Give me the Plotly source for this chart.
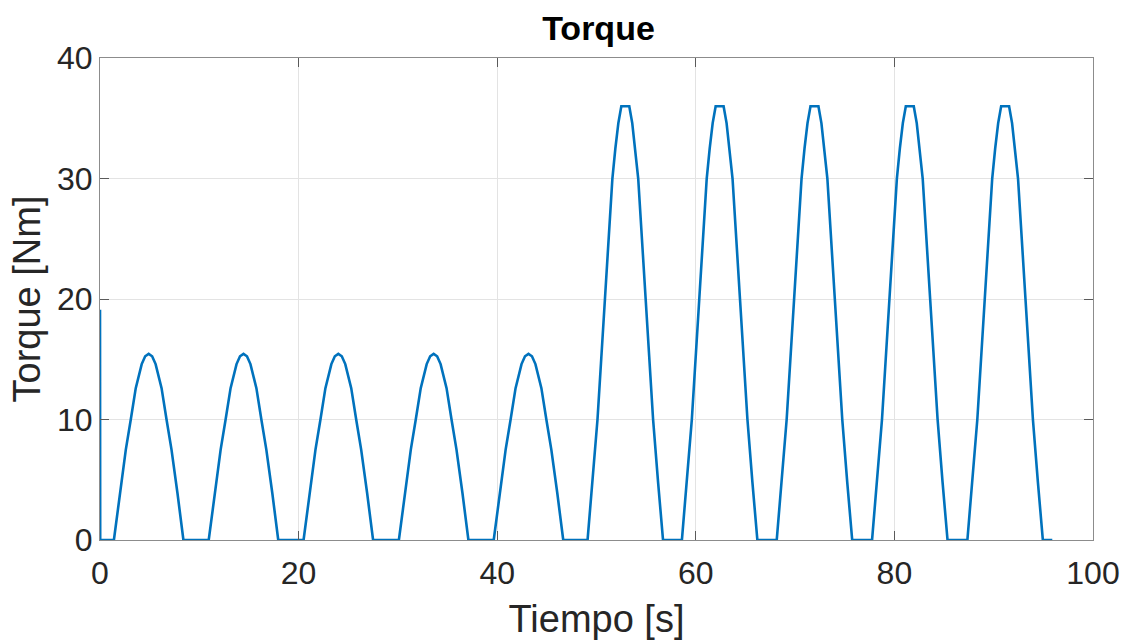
import plotly.graph_objects as go

# Time [s] and torque [Nm]
tiempo = [
    0.0, 0.02,
    1.4, 2.0, 2.6, 3.1, 3.6, 4.2, 4.55, 4.9, 5.25, 5.6, 6.2, 6.7, 7.2, 7.8, 8.4,
    10.95, 11.55, 12.15, 12.65, 13.15, 13.75, 14.1, 14.45, 14.8, 15.15, 15.75, 16.25, 16.75, 17.35, 17.95,
    20.5, 21.1, 21.7, 22.2, 22.7, 23.3, 23.65, 24.0, 24.35, 24.7, 25.3, 25.8, 26.3, 26.9, 27.5,
    30.1, 30.7, 31.3, 31.8, 32.3, 32.9, 33.25, 33.6, 33.95, 34.3, 34.9, 35.4, 35.9, 36.5, 37.1,
    39.65, 40.25, 40.85, 41.35, 41.85, 42.45, 42.8, 43.15, 43.5, 43.85, 44.45, 44.95, 45.45, 46.05, 46.65,
    49.1, 49.6, 50.1, 50.85, 51.6, 51.9, 52.2, 52.5, 53.3, 53.6, 53.9, 54.2, 54.95, 55.7, 56.2, 56.7,
    58.6, 59.1, 59.6, 60.35, 61.1, 61.4, 61.7, 62.0, 62.8, 63.1, 63.4, 63.7, 64.45, 65.2, 65.7, 66.2,
    68.15, 68.65, 69.15, 69.9, 70.65, 70.95, 71.25, 71.55, 72.35, 72.65, 72.95, 73.25, 74.0, 74.75, 75.25, 75.75,
    77.75, 78.25, 78.75, 79.5, 80.25, 80.55, 80.85, 81.15, 81.95, 82.25, 82.55, 82.85, 83.6, 84.35, 84.85, 85.35,
    87.35, 87.85, 88.35, 89.1, 89.85, 90.15, 90.45, 90.75, 91.55, 91.85, 92.15, 92.45, 93.2, 93.95, 94.45, 94.95,
    95.9,
]

torque = [
    19.1, 0.0,
    0.0, 3.9, 7.5, 10.0, 12.6, 14.6, 15.25, 15.45, 15.25, 14.6, 12.6, 10.0, 7.5, 3.9, 0.0,
    0.0, 3.9, 7.5, 10.0, 12.6, 14.6, 15.25, 15.45, 15.25, 14.6, 12.6, 10.0, 7.5, 3.9, 0.0,
    0.0, 3.9, 7.5, 10.0, 12.6, 14.6, 15.25, 15.45, 15.25, 14.6, 12.6, 10.0, 7.5, 3.9, 0.0,
    0.0, 3.9, 7.5, 10.0, 12.6, 14.6, 15.25, 15.45, 15.25, 14.6, 12.6, 10.0, 7.5, 3.9, 0.0,
    0.0, 3.9, 7.5, 10.0, 12.6, 14.6, 15.25, 15.45, 15.25, 14.6, 12.6, 10.0, 7.5, 3.9, 0.0,
    0.0, 4.8, 10.0, 20.0, 30.0, 32.5, 34.6, 36.0, 36.0, 34.6, 32.5, 30.0, 20.0, 10.0, 4.8, 0.0,
    0.0, 4.8, 10.0, 20.0, 30.0, 32.5, 34.6, 36.0, 36.0, 34.6, 32.5, 30.0, 20.0, 10.0, 4.8, 0.0,
    0.0, 4.8, 10.0, 20.0, 30.0, 32.5, 34.6, 36.0, 36.0, 34.6, 32.5, 30.0, 20.0, 10.0, 4.8, 0.0,
    0.0, 4.8, 10.0, 20.0, 30.0, 32.5, 34.6, 36.0, 36.0, 34.6, 32.5, 30.0, 20.0, 10.0, 4.8, 0.0,
    0.0, 4.8, 10.0, 20.0, 30.0, 32.5, 34.6, 36.0, 36.0, 34.6, 32.5, 30.0, 20.0, 10.0, 4.8, 0.0,
    0.0,
]

x_ticks = [0, 20, 40, 60, 80, 100]
y_ticks = [0, 10, 20, 30, 40]

FONT = "Liberation Sans, Arial, sans-serif"
AX = "#262626"

fig = go.Figure()
fig.add_trace(go.Scatter(
    x=tiempo, y=torque, mode="lines",
    line=dict(color="#0072BD", width=2.6),
    showlegend=False,
))

axis_common = dict(
    showgrid=True, gridcolor="#e3e3e3", gridwidth=1,
    zeroline=False,
    showline=True, linecolor="#8c8c8c", linewidth=1,
    mirror="ticks", ticks="inside", ticklen=9, tickcolor="#5a5a5a", tickwidth=1,
    tickfont=dict(family=FONT, size=32, color=AX),
)

fig.update_layout(
    width=1132, height=644,
    paper_bgcolor="white", plot_bgcolor="white",
    margin=dict(l=100, r=35, t=58, b=102),
    title=dict(text="<b>Torque</b>", x=0.5287, xanchor="center", y=0.957, yanchor="middle",
               font=dict(family=FONT, size=34, color="black")),
    xaxis=dict(range=[0, 100], tickvals=x_ticks, ticktext=[str(v) for v in x_ticks],
               ticklabelstandoff=5,
               title=dict(text="Tiempo [s]", font=dict(family=FONT, size=38, color=AX), standoff=14),
               **axis_common),
    yaxis=dict(range=[0, 40], tickvals=y_ticks, ticktext=[str(v) for v in y_ticks],
               title=dict(text="Torque [Nm]", font=dict(family=FONT, size=38, color=AX), standoff=4),
               **axis_common),
)

fig.write_html("out.html")
